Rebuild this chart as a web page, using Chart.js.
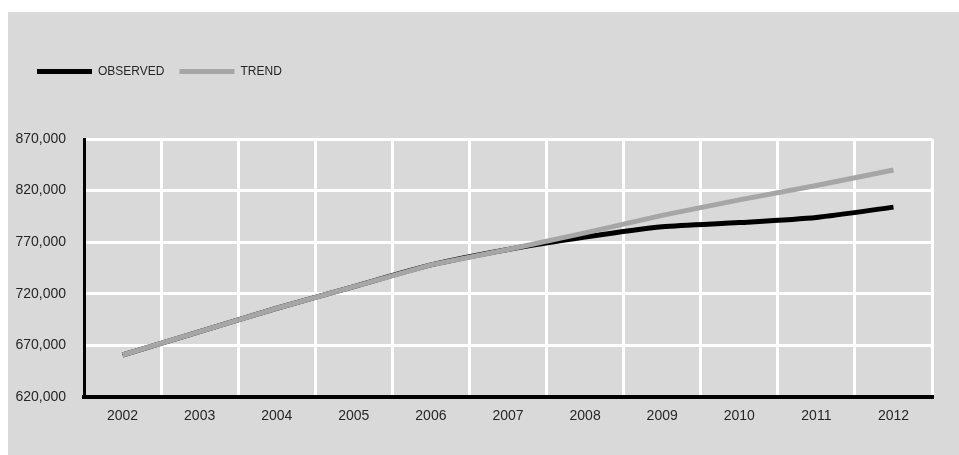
<!DOCTYPE html>
<html>
<head>
<meta charset="utf-8">
<script src="https://cdn.jsdelivr.net/npm/chart.js@4.4.0/dist/chart.umd.min.js"></script>
<style>
  html, body { margin: 0; padding: 0; background: #ffffff; }
  #wrap { position: absolute; left: 8px; top: 12px; width: 951px; height: 443px; background: #d9d9d9; }
  canvas { display: block; }
</style>
</head>
<body>
<div id="wrap"><canvas id="c" width="951" height="443"></canvas></div>
<script>
const years = ['2002','2003','2004','2005','2006','2007','2008','2009','2010','2011','2012'];
const observed = [660700, 683300, 706000, 727000, 748000, 763000, 775000, 785000, 789000, 794000, 804000];
const trend    = [660700, 683300, 706000, 727000, 748000, 763000, 779000, 796000, 811000, 825000, 840000];
const seriesNames = ['OBSERVED', 'TREND'];
const yMin = 620000, yMax = 870000, yStep = 50000;

const FONT = "'Liberation Sans', Arial, Helvetica, sans-serif";
const TEXT = '#262626';

const legendPlacer = {
  id: 'legendPlacer',
  beforeInit(chart) {
    const lg = chart.legend;
    if (!lg) return;
    const orig = lg.fit;
    lg.fit = function () {
      orig.call(this);
      this.height = 127;
    };
  },
  afterLayout(chart) {
    const lg = chart.legend;
    if (!lg) return;
    lg.top = 38.5;
    lg.left = 14;
  }
};

new Chart(document.getElementById('c'), {
  type: 'line',
  data: {
    labels: years,
    datasets: [
      {
        label: seriesNames[0],
        data: observed,
        borderColor: '#000000',
        backgroundColor: '#000000',
        borderWidth: 5,
        pointRadius: 0,
        tension: 0.25,
        order: 1
      },
      {
        label: seriesNames[1],
        data: trend,
        borderColor: '#a6a6a6',
        backgroundColor: '#a6a6a6',
        borderWidth: 5,
        pointRadius: 0,
        tension: 0,
        order: 0
      }
    ]
  },
  options: {
    responsive: false,
    animation: false,
    layout: { padding: { left: 6, right: 27, top: 0, bottom: 30 } },
    plugins: {
      tooltip: { enabled: false },
      legend: {
        position: 'top',
        align: 'start',
        labels: {
          boxWidth: 55,
          boxHeight: 5,
          padding: 15,
          color: TEXT,
          font: { family: FONT, size: 12 },
          sort: (a, b) => a.datasetIndex - b.datasetIndex,
          generateLabels(chart) {
            return Chart.defaults.plugins.legend.labels.generateLabels(chart).map(it => ({
              ...it, lineWidth: 0, fillStyle: it.strokeStyle
            }));
          }
        }
      }
    },
    scales: {
      x: {
        offset: true,
        grid: { offset: true, color: '#ffffff', lineWidth: 3, drawTicks: false },
        border: { display: true, color: '#000000', width: 4 },
        ticks: { color: TEXT, font: { family: FONT, size: 14 }, padding: 11, maxRotation: 0 },
        afterFit(scale) { scale.height = 28; }
      },
      y: {
        min: yMin,
        max: yMax,
        grid: { color: '#ffffff', lineWidth: 3, drawTicks: false },
        border: { display: true, color: '#000000', width: 3 },
        ticks: {
          stepSize: yStep,
          color: TEXT,
          font: { family: FONT, size: 14 },
          padding: 18,
          callback: v => Number(v).toLocaleString('en-US')
        },
        afterFit(scale) { scale.width = 70; }
      }
    }
  },
  plugins: [legendPlacer]
});
</script>
</body>
</html>
